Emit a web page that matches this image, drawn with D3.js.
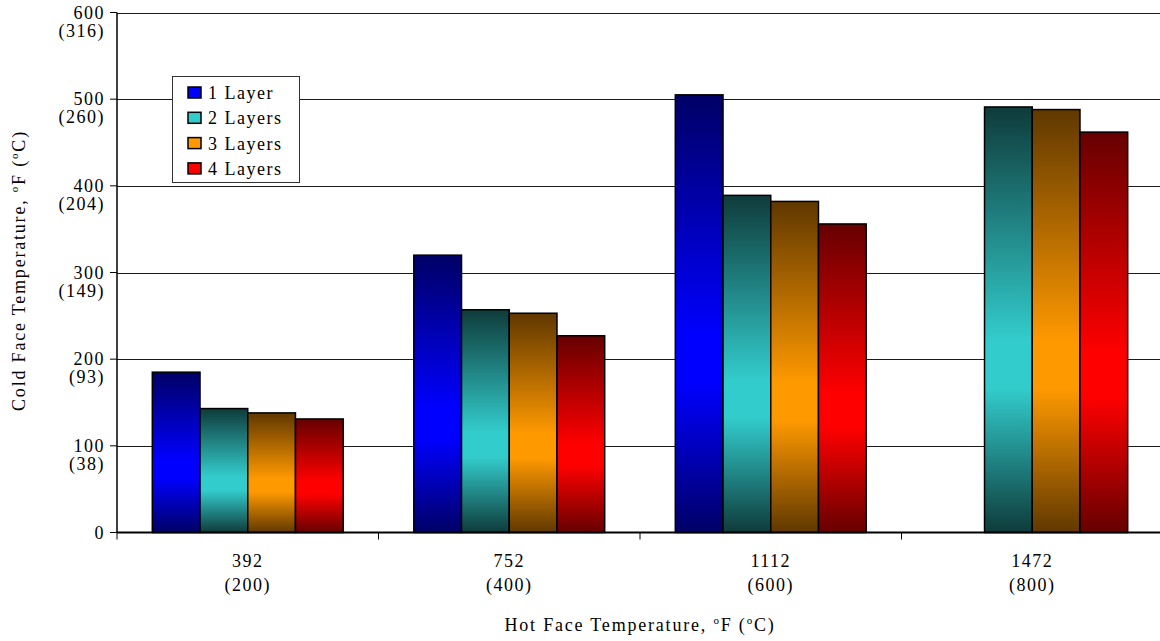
<!DOCTYPE html>
<html>
<head>
<meta charset="utf-8">
<script src="https://cdn.jsdelivr.net/npm/d3@7"></script>
<style>
  body { margin: 0; background: #fff; }
  text { font-family: "Liberation Serif", "Times New Roman", serif; font-size: 18px; letter-spacing: 1.5px; fill: #000; }
</style>
</head>
<body>
<div id="vis"></div>
<script>
var width = 1160, height = 641;
var margin = {top: 12, right: -3, bottom: 108, left: 117};

// data
var hotF = ["392", "752", "1112", "1472"];
var hotC = ["(200)", "(400)", "(600)", "(800)"];
var layers = ["1 Layer", "2 Layers", "3 Layers", "4 Layers"];
var oneLayer = [185, 320, 505, null];
var twoLayers = [143, 257, 389, 491];
var threeLayers = [138, 253, 382, 488];
var fourLayers = [131, 227, 356, 462];
var yTicksF = [0, 100, 200, 300, 400, 500, 600];
var yTicksC = ["", "(38)", "(93)", "(149)", "(204)", "(260)", "(316)"];

var series = [oneLayer, twoLayers, threeLayers, fourLayers];
var brightColours = ["#0000ff", "#33cccc", "#ff9900", "#ff0000"];
var darkColours = ["#000066", "#0f3b3b", "#603800", "#660000"];

var svg = d3.select("#vis").append("svg")
  .attr("width", width).attr("height", height);

var defs = svg.append("defs");
brightColours.forEach(function (c, i) {
  var g = defs.append("linearGradient")
    .attr("id", "grad" + i)
    .attr("x1", 0).attr("y1", 0).attr("x2", 0).attr("y2", 1);
  g.append("stop").attr("offset", "0%").attr("stop-color", darkColours[i]);
  g.append("stop").attr("offset", "55%").attr("stop-color", c);
  g.append("stop").attr("offset", "66%").attr("stop-color", c);
  g.append("stop").attr("offset", "100%").attr("stop-color", darkColours[i]);
});

var x0 = d3.scaleBand().domain(d3.range(hotF.length))
  .range([margin.left, width - margin.right]).padding(0);
var gap = x0.bandwidth() * 0.135;
var x1 = d3.scaleBand().domain(d3.range(layers.length))
  .range([gap, x0.bandwidth() - gap]).padding(0);
var y = d3.scaleLinear().domain([0, 600]).range([height - margin.bottom - 0.5, margin.top + 0.5]);

// gridlines
svg.append("g").selectAll("line")
  .data(yTicksF.slice(1))
  .enter().append("line")
  .attr("x1", margin.left).attr("x2", width)
  .attr("y1", function (d) { return Math.round(y(d)) + 0.5; })
  .attr("y2", function (d) { return Math.round(y(d)) + 0.5; })
  .attr("stroke", "#1a1a1a").attr("stroke-width", 1);

// bars
var groups = svg.append("g").selectAll("g")
  .data(hotF.map(function (d, i) { return i; }))
  .enter().append("g")
  .attr("transform", function (i) { return "translate(" + x0(i) + ",0)"; });

groups.selectAll("rect")
  .data(function (i) {
    return series.map(function (s, k) { return {k: k, v: s[i]}; })
      .filter(function (d) { return d.v != null; });
  })
  .enter().append("rect")
  .attr("x", function (d) { return x1(d.k); })
  .attr("width", x1.bandwidth())
  .attr("y", function (d) { return y(d.v); })
  .attr("height", function (d) { return y(0) - y(d.v); })
  .attr("fill", function (d) { return "url(#grad" + d.k + ")"; })
  .attr("stroke", "#000").attr("stroke-width", 1.5);

// y axis
var yAxis = svg.append("g");
yAxis.append("line")
  .attr("x1", margin.left).attr("x2", margin.left)
  .attr("y1", y(600)).attr("y2", y(0))
  .attr("stroke", "#000").attr("stroke-width", 1.5);
var yt = yAxis.selectAll("g.tick").data(yTicksF).enter().append("g")
  .attr("class", "tick")
  .attr("transform", function (d) { return "translate(0," + y(d) + ")"; });
yt.append("line")
  .attr("x1", margin.left - 7).attr("x2", margin.left)
  .attr("stroke", "#000").attr("stroke-width", 1);
yt.append("text")
  .attr("x", margin.left - 12).attr("y", 6)
  .attr("text-anchor", "end")
  .text(function (d) { return d; });
yt.append("text")
  .attr("x", margin.left - 12).attr("y", 24)
  .attr("text-anchor", "end")
  .text(function (d, i) { return yTicksC[i]; });

// x axis
var xAxis = svg.append("g");
xAxis.append("line")
  .attr("x1", margin.left).attr("x2", width)
  .attr("y1", y(0)).attr("y2", y(0))
  .attr("stroke", "#000").attr("stroke-width", 2);
xAxis.selectAll("line.tick")
  .data(d3.range(hotF.length + 1))
  .enter().append("line")
  .attr("class", "tick")
  .attr("x1", function (i) { return margin.left + i * x0.bandwidth(); })
  .attr("x2", function (i) { return margin.left + i * x0.bandwidth(); })
  .attr("y1", y(0)).attr("y2", y(0) + 7)
  .attr("stroke", "#000").attr("stroke-width", 1);
xAxis.selectAll("text.f")
  .data(hotF).enter().append("text")
  .attr("class", "f")
  .attr("x", function (d, i) { return x0(i) + x0.bandwidth() / 2; })
  .attr("y", 567)
  .attr("text-anchor", "middle")
  .text(function (d) { return d; });
xAxis.selectAll("text.c")
  .data(hotC).enter().append("text")
  .attr("class", "c")
  .attr("x", function (d, i) { return x0(i) + x0.bandwidth() / 2; })
  .attr("y", 591)
  .attr("text-anchor", "middle")
  .text(function (d) { return d; });

// axis titles
function degreeTitle(sel, first, unit1, unit2) {
  sel.append("tspan").text(first);
  sel.append("tspan").attr("dy", -7).style("font-size", "11px").text("o");
  sel.append("tspan").attr("dy", 7).text(unit1 + " (");
  sel.append("tspan").attr("dy", -7).style("font-size", "11px").text("o");
  sel.append("tspan").attr("dy", 7).text(unit2 + ")");
}
var xTitle = svg.append("text")
  .attr("x", (margin.left + width - margin.right) / 2)
  .attr("y", 631)
  .attr("text-anchor", "middle")
  .style("letter-spacing", "1.8px");
degreeTitle(xTitle, "Hot Face Temperature, ", "F", "C");

var yTitle = svg.append("text")
  .attr("transform", "translate(25," + (y(300) - 2) + ") rotate(-90)")
  .attr("text-anchor", "middle")
  .style("letter-spacing", "1.8px");
degreeTitle(yTitle, "Cold Face Temperature, ", "F", "C");

// legend
var legend = svg.append("g").attr("transform", "translate(172,76)");
legend.append("rect")
  .attr("x", 0.5).attr("y", 0.5).attr("width", 127).attr("height", 106)
  .attr("fill", "#fff").attr("stroke", "#333").attr("stroke-width", 1);
var li = legend.selectAll("g.item").data(layers).enter().append("g")
  .attr("class", "item")
  .attr("transform", function (d, i) { return "translate(16," + (17 + i * 25.3) + ")"; });
li.append("rect")
  .attr("x", 0).attr("y", -6).attr("width", 13).attr("height", 11)
  .attr("fill", function (d, i) { return brightColours[i]; })
  .attr("stroke", "#000").attr("stroke-width", 1.5);
li.append("text")
  .attr("x", 20).attr("y", 6)
  .text(function (d) { return d; });
</script>
</body>
</html>
